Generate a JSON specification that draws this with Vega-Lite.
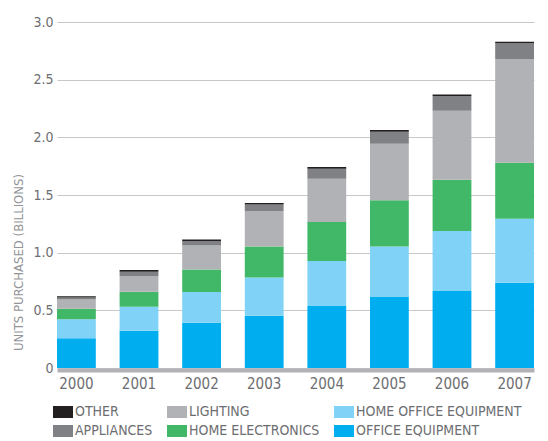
{
  "$schema": "https://vega.github.io/schema/vega-lite/v6.json",
  "autosize": {"type": "none"},
  "padding": {"left": 57, "top": 22, "right": 14, "bottom": 73},
  "width": 477,
  "height": 346,
  "background": "white",
  "config": {
    "view": {"stroke": null},
    "font": "DejaVu Sans Condensed"
  },
  "data": {
    "values": [
      {"year": "2000", "category": "OFFICE EQUIPMENT", "layer": 1, "units": 0.257},
      {"year": "2000", "category": "HOME OFFICE EQUIPMENT", "layer": 2, "units": 0.165},
      {"year": "2000", "category": "HOME ELECTRONICS", "layer": 3, "units": 0.092},
      {"year": "2000", "category": "LIGHTING", "layer": 4, "units": 0.081},
      {"year": "2000", "category": "APPLIANCES", "layer": 5, "units": 0.017},
      {"year": "2000", "category": "OTHER", "layer": 6, "units": 0.011},
      {"year": "2001", "category": "OFFICE EQUIPMENT", "layer": 1, "units": 0.323},
      {"year": "2001", "category": "HOME OFFICE EQUIPMENT", "layer": 2, "units": 0.208},
      {"year": "2001", "category": "HOME ELECTRONICS", "layer": 3, "units": 0.130},
      {"year": "2001", "category": "LIGHTING", "layer": 4, "units": 0.136},
      {"year": "2001", "category": "APPLIANCES", "layer": 5, "units": 0.037},
      {"year": "2001", "category": "OTHER", "layer": 6, "units": 0.015},
      {"year": "2002", "category": "OFFICE EQUIPMENT", "layer": 1, "units": 0.392},
      {"year": "2002", "category": "HOME OFFICE EQUIPMENT", "layer": 2, "units": 0.266},
      {"year": "2002", "category": "HOME ELECTRONICS", "layer": 3, "units": 0.196},
      {"year": "2002", "category": "LIGHTING", "layer": 4, "units": 0.208},
      {"year": "2002", "category": "APPLIANCES", "layer": 5, "units": 0.037},
      {"year": "2002", "category": "OTHER", "layer": 6, "units": 0.015},
      {"year": "2003", "category": "OFFICE EQUIPMENT", "layer": 1, "units": 0.453},
      {"year": "2003", "category": "HOME OFFICE EQUIPMENT", "layer": 2, "units": 0.332},
      {"year": "2003", "category": "HOME ELECTRONICS", "layer": 3, "units": 0.268},
      {"year": "2003", "category": "LIGHTING", "layer": 4, "units": 0.306},
      {"year": "2003", "category": "APPLIANCES", "layer": 5, "units": 0.058},
      {"year": "2003", "category": "OTHER", "layer": 6, "units": 0.014},
      {"year": "2004", "category": "OFFICE EQUIPMENT", "layer": 1, "units": 0.537},
      {"year": "2004", "category": "HOME OFFICE EQUIPMENT", "layer": 2, "units": 0.390},
      {"year": "2004", "category": "HOME ELECTRONICS", "layer": 3, "units": 0.338},
      {"year": "2004", "category": "LIGHTING", "layer": 4, "units": 0.375},
      {"year": "2004", "category": "APPLIANCES", "layer": 5, "units": 0.087},
      {"year": "2004", "category": "OTHER", "layer": 6, "units": 0.015},
      {"year": "2005", "category": "OFFICE EQUIPMENT", "layer": 1, "units": 0.615},
      {"year": "2005", "category": "HOME OFFICE EQUIPMENT", "layer": 2, "units": 0.438},
      {"year": "2005", "category": "HOME ELECTRONICS", "layer": 3, "units": 0.402},
      {"year": "2005", "category": "LIGHTING", "layer": 4, "units": 0.490},
      {"year": "2005", "category": "APPLIANCES", "layer": 5, "units": 0.104},
      {"year": "2005", "category": "OTHER", "layer": 6, "units": 0.015},
      {"year": "2006", "category": "OFFICE EQUIPMENT", "layer": 1, "units": 0.672},
      {"year": "2006", "category": "HOME OFFICE EQUIPMENT", "layer": 2, "units": 0.515},
      {"year": "2006", "category": "HOME ELECTRONICS", "layer": 3, "units": 0.445},
      {"year": "2006", "category": "LIGHTING", "layer": 4, "units": 0.598},
      {"year": "2006", "category": "APPLIANCES", "layer": 5, "units": 0.127},
      {"year": "2006", "category": "OTHER", "layer": 6, "units": 0.014},
      {"year": "2007", "category": "OFFICE EQUIPMENT", "layer": 1, "units": 0.739},
      {"year": "2007", "category": "HOME OFFICE EQUIPMENT", "layer": 2, "units": 0.555},
      {"year": "2007", "category": "HOME ELECTRONICS", "layer": 3, "units": 0.485},
      {"year": "2007", "category": "LIGHTING", "layer": 4, "units": 0.901},
      {"year": "2007", "category": "APPLIANCES", "layer": 5, "units": 0.136},
      {"year": "2007", "category": "OTHER", "layer": 6, "units": 0.012}
    ]
  },
  "mark": {"type": "bar"},
  "encoding": {
    "x": {
      "field": "year",
      "type": "nominal",
      "scale": {"paddingInner": 0.38, "paddingOuter": 0},
      "axis": {
        "title": null,
        "labelAngle": 0,
        "ticks": false,
        "domainColor": "#b1b2b5",
        "domainWidth": 4,
        "offset": 2,
        "labelFontSize": 15,
        "labelColor": "#6d6e71",
        "labelPadding": 6
      }
    },
    "y": {
      "field": "units",
      "type": "quantitative",
      "stack": "zero",
      "scale": {"domain": [0, 3]},
      "axis": {
        "title": "UNITS PURCHASED (BILLIONS)",
        "values": [0, 0.5, 1, 1.5, 2, 2.5, 3],
        "labelExpr": "datum.value == 0 ? '0' : format(datum.value, '.1f')",
        "domain": false,
        "ticks": false,
        "gridColor": "#c8c8c8",
        "gridWidth": 1,
        "labelFontSize": 14,
        "labelColor": "#6d6e71",
        "labelPadding": 4,
        "titleFontSize": 13,
        "titleFontWeight": "normal",
        "titleColor": "#939598",
        "titleX": -39,
        "titleY": 240,
        "titleAngle": 270,
        "titleBaseline": "middle"
      }
    },
    "color": {
      "field": "category",
      "type": "nominal",
      "scale": {
        "domain": ["OTHER", "LIGHTING", "HOME OFFICE EQUIPMENT", "APPLIANCES", "HOME ELECTRONICS", "OFFICE EQUIPMENT"],
        "range": ["#231f20", "#b1b2b5", "#80d3f6", "#808184", "#40b868", "#00aeef"]
      },
      "legend": {
        "title": null,
        "orient": "none",
        "legendX": -4,
        "legendY": 380,
        "columns": 3,
        "direction": "horizontal",
        "symbolType": "M-1,-0.6H1V0.6H-1Z",
        "symbolSize": 400,
        "symbolStrokeWidth": 0,
        "labelFontSize": 14,
        "labelColor": "#6d6e71",
        "labelOffset": 2,
        "columnPadding": 14,
        "rowPadding": 2,
        "labelLimit": 400
      }
    },
    "order": {"field": "layer", "type": "quantitative"}
  }
}
